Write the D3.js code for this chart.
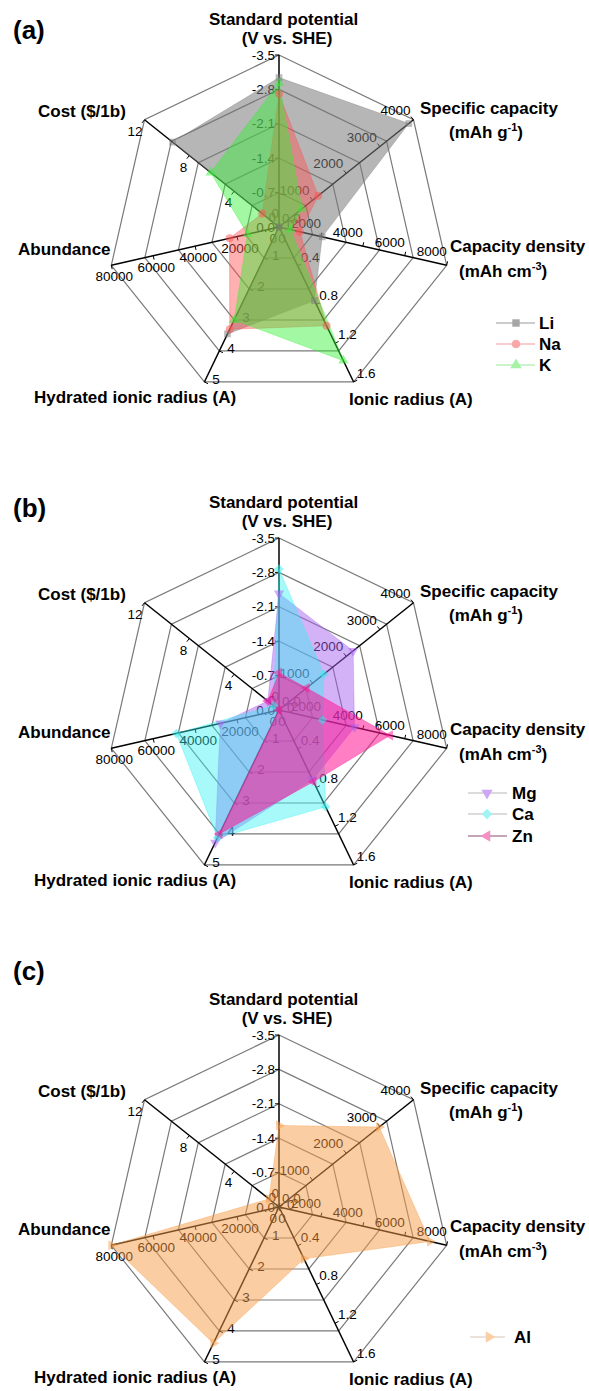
<!DOCTYPE html>
<html><head><meta charset="utf-8">
<script src="https://cdn.jsdelivr.net/npm/d3@7"></script>
<style>
body{margin:0;background:#fff}
svg{display:block}
text{font-family:"Liberation Sans",Arial,Helvetica,sans-serif}
</style>
</head><body>
<svg id="chart" width="589" height="1391"></svg>
<script>
// ---------- data ----------
const axisNames = ["Standard potential","Specific capacity","Capacity density","Ionic radius (A)","Hydrated ionic radius (A)","Abundance","Cost ($/1b)"];
const axisDomainEnd = [-3.5, 4000, 8000, 1.6, 5, 80000, 12];
const potentialTicks = [0, -0.7, -1.4, -2.1, -2.8, -3.5];
const specCapacityTicks = [0, 1000, 2000, 3000, 4000];
const capDensityTicks = [0, 2000, 4000, 6000, 8000];
const ionicTicks = [0, 0.4, 0.8, 1.2, 1.6];
const hydratedTicks = [0, 1, 2, 3, 4, 5];
const abundanceTicks = [0, 20000, 40000, 60000, 80000];
const costTicks = [0, 4, 8, 12];
const tickFormats = [".1f", "d", "d", ".1f", "d", "d", "d"];
const ringCount = 5;
const panelLabels = ["(a)", "(b)", "(c)"];

// values per axis order: potential, specific cap, cap density, ionic r, hydrated r, abundance, cost
const seriesNamesA = ["Li", "Na", "K"];
const liValues = [-3.04, 3861, 2062, 0.76, 3.45, 20, 9.5];
const naValues = [-2.71, 1166, 1000, 1.02, 3.3, 23600, 1.5];
const kValues  = [-2.93, 685, 560, 1.38, 3.0, 15000, 6.1];

const seriesNamesB = ["Mg", "Ca", "Zn"];
const mgValues = [-2.37, 2205, 3600, 0.72, 4.28, 28000, 1.0];
const caValues = [-2.87, 1337, 2073, 1.00, 4.12, 49000, 0.5];
const znValues = [-0.76, 820, 5300, 0.74, 4.0, 75, 1.0];

const seriesNamesC = ["Al"];
const alValues = [-1.66, 2980, 7200, 0.535, 4.4, 80000, 0.9];

// ---------- drawing ----------
const svg = d3.select("#chart");
const R = 172;
const axisTicks = [potentialTicks, specCapacityTicks, capDensityTicks, ionicTicks, hydratedTicks, abundanceTicks, costTicks];
const scales = axisDomainEnd.map(d => d3.scaleLinear().domain([0, d]).range([0, R]));
const nAx = axisNames.length;
const ang = k => (-90 + k * 360 / nAx) * Math.PI / 180;
const fmtLocale = d3.formatLocale({decimal: ".", thousands: "", grouping: [3], currency: ["", ""], minus: "-"});

const styles = {
  Li: {fill: "#7a7a7a", op: 0.55, legend: "#a6a6a6", line: "#9a9a9a", sym: "square", rot: 0},
  Na: {fill: "#ff5050", op: 0.45, legend: "#f7a9a9", line: "#f29a9a", sym: "circle", rot: 0},
  K:  {fill: "#33f033", op: 0.45, legend: "#a6f2a6", line: "#9aea9a", sym: "triangle", rot: 0},
  Mg: {fill: "#a65ff0", op: 0.48, legend: "#cfa6f5", line: "#b8b8b8", sym: "triangle", rot: 180},
  Ca: {fill: "#2ff0f0", op: 0.42, legend: "#a0f4f4", line: "#b8b8b8", sym: "square", rot: 45},
  Zn: {fill: "#ff1493", op: 0.55, legend: "#f58fc4", line: "#8a4a70", sym: "triangle", rot: -90},
  Al: {fill: "#f89c45", op: 0.5, legend: "#fbcfa4", line: "#d8c8b8", sym: "triangle", rot: 90}
};
const symMap = {square: d3.symbolSquare, circle: d3.symbolCircle, triangle: d3.symbolTriangle};

// tick label offsets per axis [dx, dy, anchor]
const tickLab = [[-4, 4.5, "end"], [-3, -5, "end"], [0, -9, "end"], [3, -4, "start"], [8, 2, "start"], [3, 16, "middle"], [-2, 16, "end"]];

const panels = [
  {cx: 279, cy: 227, label: panelLabels[0], labelY: 39, series: seriesNamesA, values: [liValues, naValues, kValues],
   legend: {x1: 496, x2: 535, mx: 516, tx: 539, ys: [323, 344, 365]}},
  {cx: 279, cy: 710, label: panelLabels[1], labelY: 517, series: seriesNamesB, values: [mgValues, caValues, znValues],
   legend: {x1: 468, x2: 507, mx: 487, tx: 512, ys: [793, 814, 836]}},
  {cx: 279, cy: 1207, label: panelLabels[2], labelY: 980, series: seriesNamesC, values: [alValues],
   legend: {x1: 470, x2: 505, mx: 489, tx: 514, ys: [1337]}}
];

function drawPanel(p) {
  const g = svg.append("g");
  const pt = (k, r) => [p.cx + r * Math.cos(ang(k)), p.cy + r * Math.sin(ang(k))];

  // rings
  d3.range(1, ringCount + 1).forEach(i => {
    const r = R * i / ringCount;
    g.append("polygon")
      .attr("points", d3.range(nAx).map(k => pt(k, r).join(",")).join(" "))
      .attr("fill", "none").attr("stroke", "#7a7a7a").attr("stroke-width", 1.2);
  });
  // axes
  d3.range(nAx).forEach(k => {
    const e = pt(k, R);
    g.append("line").attr("x1", p.cx).attr("y1", p.cy).attr("x2", e[0]).attr("y2", e[1])
      .attr("stroke", "#000").attr("stroke-width", 1.5);
  });
  // ticks + labels
  axisTicks.forEach((ticks, k) => {
    const s = scales[k];
    const fmt = fmtLocale.format(tickFormats[k]);
    const ux = Math.cos(ang(k)), uy = Math.sin(ang(k));
    const px = uy, py = -ux; // perpendicular (label side)
    ticks.forEach(t => {
      const [x, y] = pt(k, s(t));
      g.append("line").attr("x1", x).attr("y1", y).attr("x2", x + px * 4).attr("y2", y + py * 4)
        .attr("stroke", "#000").attr("stroke-width", 1);
      const o = tickLab[k];
      g.append("text").attr("x", x + o[0]).attr("y", y + o[1]).attr("text-anchor", o[2])
        .attr("font-size", "13.5px").attr("fill", "#000").text(fmt(t));
    });
  });
  // series polygons
  p.series.forEach((name, i) => {
    const st = styles[name];
    const vals = p.values[i];
    const pts = vals.map((v, k) => pt(k, scales[k](v)));
    g.append("polygon").attr("points", pts.map(d => d.join(",")).join(" "))
      .attr("fill", st.fill).attr("fill-opacity", st.op)
      .attr("stroke", st.fill).attr("stroke-opacity", 0.35).attr("stroke-width", 1);
  });
  p.series.forEach((name, i) => {
    const st = styles[name];
    const vals = p.values[i];
    vals.forEach((v, k) => {
      const [x, y] = pt(k, scales[k](v));
      g.append("path").attr("d", d3.symbol(symMap[st.sym], st.sym === "circle" ? 50 : 45)())
        .attr("transform", `translate(${x},${y}) rotate(${st.rot})`)
        .attr("fill", st.fill).attr("fill-opacity", 0.5);
    });
  });

  // axis titles
  const cx = p.cx, cy = p.cy;
  const T = (x, y, str, anchor) => g.append("text").attr("x", x).attr("y", y)
    .attr("text-anchor", anchor || "start").attr("font-size", "17px").attr("font-weight", "bold").text(str);
  T(cx + 4.5, cy - 202.5, axisNames[0], "middle");
  T(cx + 8, cy - 183, "(V vs. SHE)", "middle");
  T(cx + 141, cy - 113, axisNames[1]);
  const t1 = T(cx + 170, cy - 89, "(mAh g");
  t1.append("tspan").attr("font-size", "11px").attr("dy", -7).text("-1");
  t1.append("tspan").attr("dy", 7).text(")");
  T(cx + 171, cy + 25, axisNames[2]);
  const t2 = T(cx + 180, cy + 50, "(mAh cm");
  t2.append("tspan").attr("font-size", "11px").attr("dy", -7).text("-3");
  t2.append("tspan").attr("dy", 7).text(")");
  T(cx + 70, cy + 178, axisNames[3]);
  T(cx - 245, cy + 176, axisNames[4]);
  T(cx - 261, cy + 28, axisNames[5]);
  T(cx - 241, cy - 110, axisNames[6]);

  // panel label
  g.append("text").attr("x", 13).attr("y", p.labelY).attr("font-size", "26px").attr("font-weight", "bold").text(p.label);

  // legend
  const L = p.legend;
  p.series.forEach((name, i) => {
    const st = styles[name];
    const y = L.ys[i];
    g.append("line").attr("x1", L.x1).attr("x2", L.x2).attr("y1", y).attr("y2", y)
      .attr("stroke", st.line).attr("stroke-width", 1.2);
    g.append("path").attr("d", d3.symbol(symMap[st.sym], st.sym === "circle" ? 60 : 55)())
      .attr("transform", `translate(${L.mx},${y}) rotate(${st.rot})`).attr("fill", st.legend);
    g.append("text").attr("x", L.tx).attr("y", y + 6).attr("font-size", "17px").attr("font-weight", "bold").text(name);
  });
}
panels.forEach(drawPanel);
</script>
</body></html>
